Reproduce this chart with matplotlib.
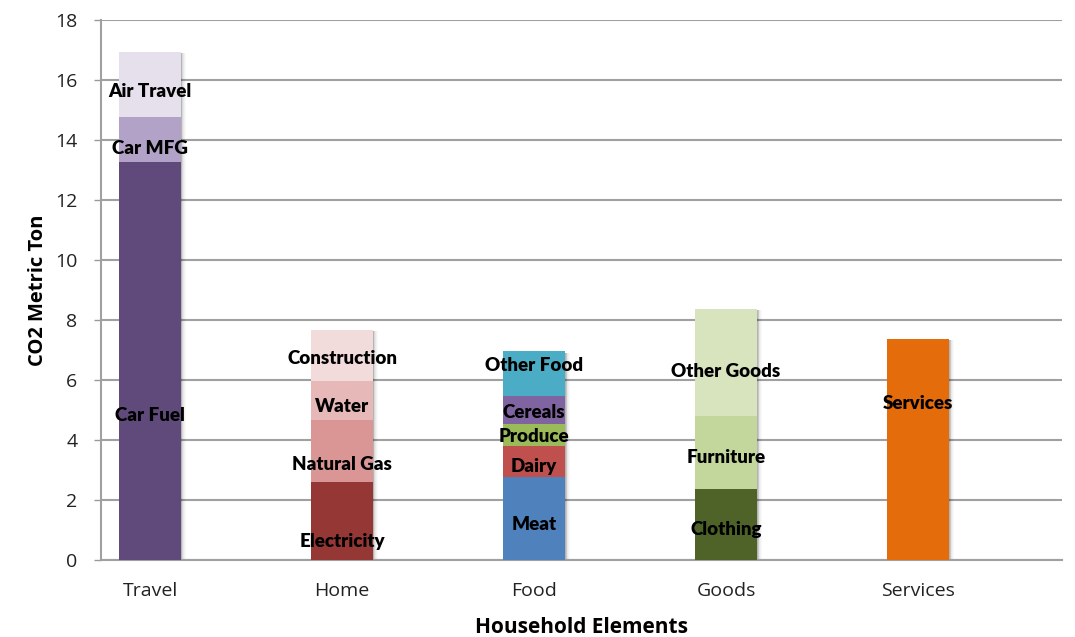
import matplotlib
matplotlib.use("Agg")
import matplotlib.pyplot as plt

categories = ["Travel", "Home", "Food", "Goods", "Services"]

# stacked segments per category
travel_labels = ["Car Fuel", "Car MFG", "Air Travel"]
travel_values = [13.27, 1.5, 2.17]
travel_colors = ["#604A7B", "#B3A2C7", "#E6E0EC"]
travel_label_y = [4.83, 13.73, 15.6]

home_labels = ["Electricity", "Natural Gas", "Water", "Construction"]
home_values = [2.6, 2.07, 1.3, 1.7]
home_colors = ["#953735", "#D99694", "#E6B9B8", "#F2DCDB"]
home_label_y = [0.63, 3.17, 5.13, 6.73]

food_labels = ["Meat", "Dairy", "Produce", "Cereals", "Other Food"]
food_values = [2.75, 1.05, 0.73, 0.93, 1.5]
food_colors = ["#4F81BD", "#C0504D", "#9BBB59", "#8064A2", "#4BACC6"]
food_label_y = [1.17, 3.13, 4.1, 4.93, 6.47]

goods_labels = ["Clothing", "Furniture", "Other Goods"]
goods_values = [2.35, 2.45, 3.57]
goods_colors = ["#4F6228", "#C3D69B", "#D7E4BD"]
goods_label_y = [1.0, 3.4, 6.27]

services_labels = ["Services"]
services_values = [7.37]
services_colors = ["#E46C0A"]
services_label_y = [5.2]

groups = [
    (travel_labels, travel_values, travel_colors, travel_label_y),
    (home_labels, home_values, home_colors, home_label_y),
    (food_labels, food_values, food_colors, food_label_y),
    (goods_labels, goods_values, goods_colors, goods_label_y),
    (services_labels, services_values, services_colors, services_label_y),
]

y_ticks = [0, 2, 4, 6, 8, 10, 12, 14, 16, 18]

plt.rcParams['font.family'] = ['Open Sans', 'DejaVu Sans']

fig = plt.figure(figsize=(10.75, 6.37), dpi=100)
ax = fig.add_axes([0.094, 0.1209, 0.894, 0.8477])

width = 0.322
for i, (labels, values, colors, label_y) in enumerate(groups):
    total = sum(values)
    # soft drop shadow on the right side
    for k, a in enumerate([0.10, 0.08, 0.06, 0.04, 0.03, 0.02]):
        off = 0.004 + k * 0.004
        ax.bar(i + off, total - 0.05, width=width, bottom=0,
               color="#000000", alpha=a, linewidth=0, zorder=2)
    bottom = 0
    for lab, v, c, ly in zip(labels, values, colors, label_y):
        ax.bar(i, v, width=width, bottom=bottom, color=c, linewidth=0, zorder=3)
        ax.text(i, ly, lab, ha="center", va="center", fontsize=13.5,
                fontweight="heavy", color="black", zorder=5,
                family=["Lato", "DejaVu Sans"])
        bottom += v

ax.set_xlim(-0.255, 4.75)
ax.set_ylim(0, 18)
ax.set_yticks(y_ticks)
ax.set_xticks(range(len(categories)))
ax.set_xticklabels(categories)
ax.tick_params(axis="x", length=0, labelsize=14, pad=16, colors="#222222")
ax.tick_params(axis="y", length=5, width=1, color="#999999", labelsize=14,
               pad=12, labelcolor="#222222")
ax.yaxis.grid(True, color="#A0A0A0", linewidth=1.5, zorder=0)
ax.set_axisbelow(True)
for s in ["top", "right"]:
    ax.spines[s].set_visible(False)
ax.spines["left"].set_color("#A0A0A0")
ax.spines["bottom"].set_color("#A0A0A0")
ax.spines["left"].set_linewidth(1.5)
ax.spines["bottom"].set_linewidth(1.5)

ax.set_ylabel("CO2 Metric Ton", fontsize=14.5, fontweight="bold", labelpad=5)
ax.set_xlabel("Household Elements", fontsize=15, fontweight="bold", labelpad=12)

fig.savefig("out.png", dpi=100)
